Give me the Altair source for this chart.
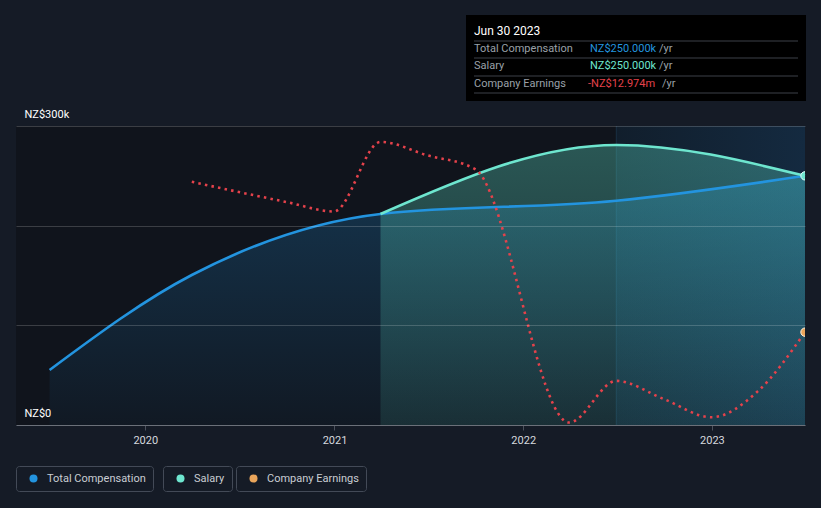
import altair as alt
import pandas as pd

# ---------------- data ----------------
comp_dates = ["2019-06-30", "2020-03-31", "2021-03-31", "2022-06-30", "2023-06-30"]
total_comp = [55.2, 150.5, 211.7, 225.0, 250.0]          # NZ$k

salary_dates = ["2021-03-31", "2022-06-30", "2023-06-30"]
salary = [211.7, 281.0, 250.0]                            # NZ$k

earn_dates = ["2020-03-31", "2020-06-30", "2020-09-30", "2020-12-31", "2021-03-31",
              "2021-06-30", "2021-09-30", "2022-03-31", "2022-06-30", "2022-09-30",
              "2022-12-31", "2023-03-31", "2023-06-30"]
earnings = [-6.94, -7.35, -7.75, -8.13, -5.34, -5.88, -6.43, -16.60, -14.93, -15.66,
            -16.39, -15.34, -12.974]                      # NZ$m

series_names = ["Total Compensation", "Salary", "Company Earnings"]
series_colors = ["#2394df", "#6ee6cf", "#eaa55b"]
earn_line_color = "#e5424b"

year_ticks = [2020, 2021, 2022, 2023]
highlight_start = "2022-06-30"
highlight_end = "2023-06-30"

tooltip_title = "Jun 30 2023"
tooltip_labels = ["Total Compensation", "Salary", "Company Earnings"]
tooltip_values = ["NZ$250.000k", "NZ$250.000k", "-NZ$12.974m"]
tooltip_value_colors = ["#2394df", "#6ee6cf", "#e5424b"]
tooltip_unit = "/yr"

# ---------------- frames ----------------
df_tc = pd.DataFrame({"date": pd.to_datetime(comp_dates), "value": total_comp,
                      "series": series_names[0]})
df_sal = pd.DataFrame({"date": pd.to_datetime(salary_dates), "value": salary,
                       "series": series_names[1]})
df_earn = pd.DataFrame({"date": pd.to_datetime(earn_dates), "value": earnings,
                        "series": series_names[2]})
df_hl = pd.DataFrame({"start": pd.to_datetime([highlight_start]),
                      "end": pd.to_datetime([highlight_end])})
one = pd.DataFrame({"k": [0]})

W, H = 789, 299
FONT = "Roboto"

x_scale = alt.Scale(domain=[alt.DateTime(year=2019, month=4, date=26),
                            alt.DateTime(year=2023, month=6, date=30)])
x_axis = alt.Axis(values=[alt.DateTime(year=y, month=1, date=1) for y in year_ticks],
                  format="%Y", labelColor="#d5d9de", labelFont=FONT, labelFontSize=11,
                  domainColor="#4b515c", tickColor="#4b515c", tickSize=5,
                  labelPadding=4, grid=False, title=None, labelFlush=False)
X = alt.X("date:T", scale=x_scale, axis=x_axis)

y_axis = alt.Axis(values=[0, 100, 200, 300],
                  labelExpr="datum.value == 0 ? 'NZ$0' : (datum.value == 300 ? 'NZ$300k' : '')",
                  domain=False, ticks=False, gridColor="#ffffff", gridOpacity=0.18,
                  labelAlign="left", labelPadding=-8, labelBaseline="alphabetic",
                  labelOffset=-9, labelColor="#ffffff", labelFont=FONT, labelFontSize=11,
                  title=None, zindex=1)
comp_scale = alt.Scale(domain=[0, 300])
Y = alt.Y("value:Q", scale=comp_scale, axis=y_axis)
earn_scale = alt.Scale(domain=[-16.7, -4.7])


def vgrad(top, bottom):
    return alt.Gradient(gradient="linear", x1=0, x2=0, y1=0, y2=1,
                        stops=[alt.GradientStop(color=top, offset=0),
                               alt.GradientStop(color=bottom, offset=1)])


# ---------------- layers ----------------
highlight = alt.Chart(df_hl).mark_rect(
    color=alt.Gradient(gradient="linear", x1=0, x2=1, y1=0, y2=0,
                       stops=[alt.GradientStop(color="#111e2c", offset=0),
                              alt.GradientStop(color="#142a40", offset=1)])
).encode(x=alt.X("start:T", scale=x_scale, axis=x_axis), x2="end:T",
         y=alt.value(0), y2=alt.value(H))
highlight_edge = alt.Chart(df_hl).mark_rule(color="#2a5a78", opacity=0.35).encode(
    x=alt.X("start:T", scale=x_scale, axis=x_axis), y=alt.value(0), y2=alt.value(H))

area_sal = alt.Chart(df_sal).mark_area(
    interpolate="monotone",
    color=vgrad("rgba(95,224,200,0.33)", "rgba(95,224,200,0.11)")
).encode(x=X, y=Y)
area_tc = alt.Chart(df_tc).mark_area(
    interpolate="monotone",
    color=vgrad("rgba(35,148,223,0.25)", "rgba(35,148,223,0.04)")
).encode(x=X, y=Y)
line_tc = alt.Chart(df_tc).mark_line(interpolate="monotone", color=series_colors[0],
                                      strokeWidth=2.6).encode(x=X, y=Y)
line_sal = alt.Chart(df_sal).mark_line(interpolate="monotone", color=series_colors[1],
                                        strokeWidth=2.6).encode(x=X, y=Y)
comp = alt.layer(area_tc, area_sal, line_tc, line_sal)

earn_line = alt.Chart(df_earn).mark_line(
    interpolate="monotone", color=earn_line_color, strokeWidth=2.6,
    strokeDash=[2.5, 4.2]
).encode(x=X, y=alt.Y("value:Q", scale=earn_scale, axis=None))


def legend_for(lx):
    return alt.Legend(orient="none", legendX=lx, legendY=340, title=None,
                      strokeColor="#434a57", cornerRadius=3, padding=7,
                      fillColor="#151b26", symbolType="circle", symbolSize=64,
                      symbolOffset=5, symbolStrokeWidth=0, labelColor="#c9cdd3",
                      labelFont=FONT, labelFontSize=11, labelOffset=8,
                      labelExpr="datum.label + '\u00a0\u00a0'")


pt_tc = alt.Chart(df_tc.tail(1)).mark_point(filled=True, size=70, opacity=1, clip=True).encode(
    x=X, y=alt.Y("value:Q", scale=comp_scale, axis=None),
    color=alt.Color("series:N", scale=alt.Scale(domain=[series_names[0]], range=[series_colors[0]]),
                    legend=legend_for(0)))
pt_sal = alt.Chart(df_sal.tail(1)).mark_point(filled=True, size=70, opacity=1, clip=True,
                                              stroke="#e6fffa", strokeWidth=1).encode(
    x=X, y=alt.Y("value:Q", scale=comp_scale, axis=None),
    color=alt.Color("series:N", scale=alt.Scale(domain=[series_names[1]], range=[series_colors[1]]),
                    legend=legend_for(147)))
pt_earn = alt.Chart(df_earn.tail(1)).mark_point(filled=True, size=70, opacity=1, clip=True,
                                                stroke="#fff3e0", strokeWidth=1).encode(
    x=X, y=alt.Y("value:Q", scale=earn_scale, axis=None),
    color=alt.Color("series:N", scale=alt.Scale(domain=[series_names[2]], range=[series_colors[2]]),
                    legend=legend_for(220)))

# ---------------- tooltip panel (annotation) ----------------
tip_layers = [
    alt.Chart(one).mark_rect(color="#000000").encode(
        x=alt.value(450), x2=alt.value(790), y=alt.value(-111), y2=alt.value(-25)),
    alt.Chart(one).mark_text(align="left", baseline="middle", font=FONT, fontSize=12,
                             color="#ffffff").encode(
        x=alt.value(458), y=alt.value(-95), text=alt.value(tooltip_title)),
]
for ly in [-85, -68, -50, -33]:
    tip_layers.append(alt.Chart(one).mark_rule(color="#3c4048", strokeWidth=1).encode(
        x=alt.value(458), x2=alt.value(782), y=alt.value(ly)))
row_y = [-77, -60, -42]
unit_x = [643, 643, 646]
for i in range(3):
    tip_layers.append(alt.Chart(one).mark_text(align="left", baseline="middle", font=FONT,
                                               fontSize=11, color="#9aa0a8").encode(
        x=alt.value(458), y=alt.value(row_y[i]), text=alt.value(tooltip_labels[i])))
    tip_layers.append(alt.Chart(one).mark_text(align="left", baseline="middle", font=FONT,
                                               fontSize=11, color=tooltip_value_colors[i]).encode(
        x=alt.value(574 if i < 2 else 572), y=alt.value(row_y[i]), text=alt.value(tooltip_values[i])))
    tip_layers.append(alt.Chart(one).mark_text(align="left", baseline="middle", font=FONT,
                                               fontSize=11, color="#9aa0a8").encode(
        x=alt.value(unit_x[i]), y=alt.value(row_y[i]), text=alt.value(tooltip_unit)))

chart = alt.layer(
    highlight, highlight_edge, comp, earn_line, pt_tc, pt_sal, pt_earn, *tip_layers
).resolve_scale(
    y="independent", color="independent"
).properties(
    width=W, height=H, background="#151b26",
    padding={"left": 16, "top": 126, "right": 16, "bottom": 83},
    autosize=alt.AutoSizeParams(type="none"),
).configure_view(stroke=None, fill="#10141c")

chart.save("out.html", embed_options={"renderer": "svg", "actions": False})
